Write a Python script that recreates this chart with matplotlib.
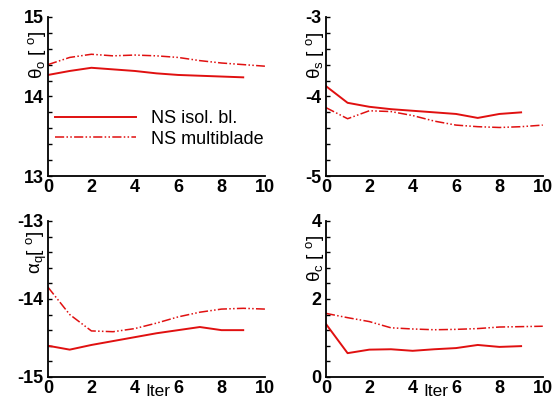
import numpy as np
import matplotlib.pyplot as plt

iters_isol = [0, 1, 2, 3, 4, 5, 6, 7, 8, 9]
iters_multi = [0, 1, 2, 3, 4, 5, 6, 7, 8, 9, 10]

theta0_isol = [14.27, 14.32, 14.36, 14.34, 14.32, 14.29, 14.27, 14.26, 14.25, 14.24]
theta0_multi = [14.40, 14.49, 14.53, 14.51, 14.52, 14.51, 14.49, 14.45, 14.42, 14.40, 14.38]

thetas_isol = [-3.87, -4.08, -4.13, -4.16, -4.18, -4.20, -4.22, -4.27, -4.22, -4.20]
thetas_multi = [-4.14, -4.28, -4.18, -4.19, -4.24, -4.31, -4.36, -4.38, -4.39, -4.38, -4.36]

alphaq_isol = [-14.60, -14.65, -14.59, -14.54, -14.49, -14.44, -14.40, -14.36, -14.40, -14.40]
alphaq_multi = [-13.85, -14.20, -14.41, -14.42, -14.38, -14.31, -14.23, -14.17, -14.13, -14.12, -14.13]

thetac_isol = [1.36, 0.61, 0.70, 0.71, 0.67, 0.71, 0.74, 0.82, 0.77, 0.79]
thetac_multi = [1.63, 1.52, 1.42, 1.26, 1.23, 1.21, 1.22, 1.24, 1.28, 1.29, 1.30]

red = '#e01010'
fam = ['Liberation Sans', 'DejaVu Sans']
plt.rcParams['font.family'] = fam
plt.rcParams['mathtext.fontset'] = 'custom'
plt.rcParams['mathtext.rm'] = 'Liberation Sans'
plt.rcParams['mathtext.it'] = 'Liberation Sans'
plt.rcParams['axes.unicode_minus'] = False

fig = plt.figure(figsize=(5.59, 4.01), dpi=100)

panels = [
    # pos, iso, multi, ylim, yticks, label, label y
    ([0.0859, 0.561, 0.388, 0.397], theta0_isol, theta0_multi, (13, 15), [13, 14, 15], 'θ$_o$ [ $^o$]', 0.76),
    ([0.583, 0.561, 0.388, 0.397], thetas_isol, thetas_multi, (-5, -3), [-5, -4, -3], 'θ$_s$ [ $^o$]', 0.76),
    ([0.0859, 0.060, 0.388, 0.389], alphaq_isol, alphaq_multi, (-15, -13), [-15, -14, -13], 'α$_q$[ $^o$]', 0.80),
    ([0.583, 0.060, 0.388, 0.389], thetac_isol, thetac_multi, (0, 4), [0, 2, 4], 'θ$_c$ [ $^o$]', 0.76),
]

axes = []
for i, (pos, iso, multi, ylim, yt, lab, ly) in enumerate(panels):
    ax = fig.add_axes(pos)
    ax.plot(iters_isol, iso, color=red, lw=1.4, label='NS isol. bl.')
    ax.plot(iters_multi, multi, color=red, lw=1.1, dashes=(6, 1.5, 1, 1.5, 1, 1.5),
            label='NS multiblade')
    ax.set_xlim(0, 10)
    ax.set_ylim(*ylim)
    ax.set_xticks([0, 2, 4, 6, 8, 10])
    ax.set_yticks(yt)
    step = (yt[1] - yt[0]) / 5
    ax.set_yticks(np.arange(ylim[0], ylim[1] + step / 2, step), minor=True)
    ax.spines['top'].set_visible(False)
    ax.spines['right'].set_visible(False)
    ax.spines['left'].set_linewidth(1.3)
    ax.spines['bottom'].set_linewidth(1.3)
    ax.tick_params(axis='y', which='both', direction='in', length=3, width=1, pad=3)
    ax.tick_params(axis='x', length=0, pad=2)
    for t in ax.get_xticklabels() + ax.get_yticklabels():
        t.set_fontsize(13)
        t.set_fontweight('bold')
    ax.text(-0.05, ly, lab, transform=ax.transAxes, rotation=90, ha='center', va='center',
            fontsize=13.5)
    if i >= 2:
        ax.text(0.505, -0.095, 'Iter', transform=ax.transAxes, ha='center', va='center', fontsize=12.5)
    axes.append(ax)

axes[0].legend(loc='upper left', bbox_to_anchor=(0.0, 0.46), frameon=False, fontsize=13,
               handlelength=4.5, handletextpad=0.8, labelspacing=0.2, borderaxespad=0)

fig.savefig('out.png', dpi=100)
